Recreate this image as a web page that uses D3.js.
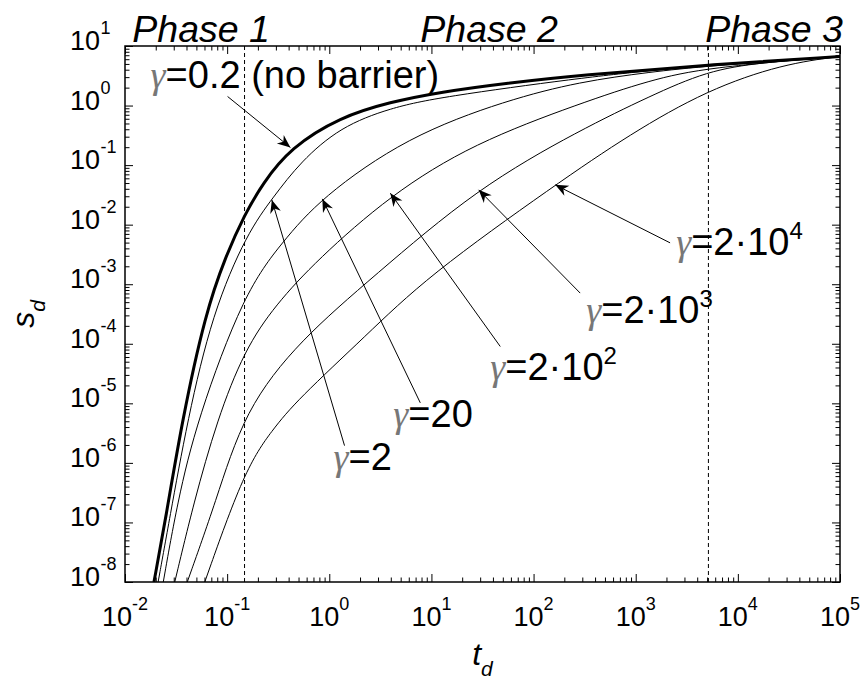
<!DOCTYPE html>
<html>
<head>
<meta charset="utf-8">
<script src="https://cdn.jsdelivr.net/npm/d3@7"></script>
<style>
  body { margin: 0; background: #fff; }
  svg { display: block; }
  text { font-family: "Liberation Sans", Arial, sans-serif; fill: #000; }
</style>
</head>
<body>
<svg id="chart" width="867" height="687"></svg>
<script>
// s_d(t_d) curves, one pair of arrays per gamma
const tG02 = [0.0192, 0.0249, 0.0363, 0.0614, 0.0962, 0.148, 0.221, 0.416, 1.28, 3.96, 12.2, 55, 286, 5000, 1e5];
const sG02 = [1e-8, 1.1e-7, 5.3e-6, 3.3e-4, 2.9e-3, 0.0146, 0.0484, 0.195, 0.644, 1.15, 1.69, 2.39, 3.26, 4.80, 6.67];

const tG2 = [0.0211, 0.0272, 0.0409, 0.0718, 0.157, 0.284, 0.521, 1.28, 3.96, 12.2, 286, 1390, 5000, 1e5];
const sG2 = [1e-8, 1.1e-7, 5.3e-6, 3.3e-4, 7.3e-3, 0.0292, 0.113, 0.438, 0.912, 1.39, 2.9, 3.88, 4.7, 6.67];

const tG20 = [0.0237, 0.0325, 0.0508, 0.148, 0.348, 0.82, 5.77, 55, 286, 1390, 5000, 1e5];
const sG20 = [1e-8, 2.15e-7, 5.3e-6, 7.5e-4, 5.1e-3, 0.0279, 0.30, 1.24, 2.52, 3.66, 4.62, 6.67];

const tG200 = [0.0307, 0.0471, 0.0798, 0.148, 0.297, 0.76, 3.96, 25.9, 286, 1390, 5000, 1e5];
const sG200 = [1e-8, 2.15e-7, 5.3e-6, 7.9e-5, 4.5e-4, 2.56e-3, 0.0316, 0.233, 1.09, 2.69, 4.36, 6.67];

const tG2000 = [0.0407, 0.0769, 0.148, 0.521, 2.72, 27.9, 286, 1390, 5000, 16500, 1e5];
const sG2000 = [1e-8, 2.15e-7, 7.8e-6, 1.17e-4, 1.35e-3, 0.041, 0.39, 1.45, 3.81, 5.28, 6.67];

const tG20000 = [0.0604, 0.148, 0.277, 0.488, 2.25, 9.06, 163, 883, 5000, 27700, 1e5];
const sG20000 = [1e-8, 7.7e-7, 3.6e-6, 1.15e-5, 1.33e-4, 1.35e-3, 0.0466, 0.333, 1.83, 4.99, 6.67];

// phase boundaries (dashed lines) and phase titles
const phaseBounds = [0.148, 5150];
const phaseNames = ['Phase 1', 'Phase 2', 'Phase 3'];
const phaseStartT = [0.0118, 7.78, 4790];

// annotation labels, arrow tips/tails and label anchors (data coords)
const annText = ['=0.2 (no barrier)', '=2', '=20', '=2\u00b710', '=2\u00b710', '=2\u00b710'];
const annSup = ['', '', '', '2', '3', '4'];
const annTip = [[0.416, 0.198], [0.274, 0.026], [0.855, 0.0271], [3.96, 0.0338], [29, 0.0384], [163, 0.0466]];
const annTail = [[0.101, 1.42], [1.41, 1.95e-6], [7.78, 1.02e-5], [47.2, 9.0e-5], [286, 7.1e-4], [2170, 4.95e-3]];
const annPos = [[0.0178, 1.97], [1.10, 7.7e-7], [4.24, 4.05e-6], [37.7, 2.49e-5], [328, 2.25e-4], [2490, 3.11e-3]];

// tick exponents
const xExp = [-2, -1, 0, 1, 2, 3, 4, 5];
const yExp = [-8, -7, -6, -5, -4, -3, -2, -1, 0, 1];

const curves = [
  { t: tG02, s: sG02, w: 3 },
  { t: tG2, s: sG2, w: 1 },
  { t: tG20, s: sG20, w: 1 },
  { t: tG200, s: sG200, w: 1 },
  { t: tG2000, s: sG2000, w: 1 },
  { t: tG20000, s: sG20000, w: 1 }
];

const svg = d3.select('#chart');
const pLeft = 125, pRight = 840, pTop = 46, pBottom = 582;

const x = d3.scaleLog().domain([1e-2, 1e5]).range([pLeft, pRight]);
const y = d3.scaleLog().domain([1e-8, 1e1]).range([pBottom, pTop]);

svg.append('rect').attr('width', 867).attr('height', 687).attr('fill', '#fff');

svg.append('defs').append('clipPath').attr('id', 'plotClip')
  .append('rect')
  .attr('x', pLeft).attr('y', pTop)
  .attr('width', pRight - pLeft).attr('height', pBottom - pTop);

// ticks on all four sides, pointing inward
const xMajor = xExp.map(e => Math.pow(10, e));
const yMajor = yExp.map(e => Math.pow(10, e));
const xMinor = xExp.slice(0, -1).flatMap(e => d3.range(2, 10).map(k => k * Math.pow(10, e)));
const yMinor = yExp.slice(0, -1).flatMap(e => d3.range(2, 10).map(k => k * Math.pow(10, e)));

function ticks(axisFn, scale, vals, size, tr) {
  svg.append('g')
    .attr('transform', tr)
    .call(axisFn(scale).tickValues(vals).tickSize(size).tickFormat(''))
    .call(g => g.select('.domain').remove())
    .selectAll('line').attr('stroke', '#000');
}
ticks(d3.axisBottom, x, xMajor, -8, `translate(0,${pBottom})`);
ticks(d3.axisBottom, x, xMinor, -4.5, `translate(0,${pBottom})`);
ticks(d3.axisTop, x, xMajor, -8, `translate(0,${pTop})`);
ticks(d3.axisTop, x, xMinor, -4.5, `translate(0,${pTop})`);
ticks(d3.axisLeft, y, yMajor, -8, `translate(${pLeft},0)`);
ticks(d3.axisLeft, y, yMinor, -4.5, `translate(${pLeft},0)`);
ticks(d3.axisRight, y, yMajor, -8, `translate(${pRight},0)`);
ticks(d3.axisRight, y, yMinor, -4.5, `translate(${pRight},0)`);

// phase boundary lines
svg.selectAll('.phase-line')
  .data(phaseBounds)
  .join('line')
  .attr('class', 'phase-line')
  .attr('x1', d => x(d)).attr('x2', d => x(d))
  .attr('y1', pTop).attr('y2', pBottom)
  .attr('stroke', '#000')
  .attr('stroke-width', 1)
  .attr('stroke-dasharray', '4,3');

// curves (smoothed through the read points)
const line = d3.line()
  .x(d => x(d[0]))
  .y(d => y(d[1]))
  .curve(d3.curveBasis);

svg.append('g')
  .attr('clip-path', 'url(#plotClip)')
  .selectAll('path')
  .data(curves)
  .join('path')
  .attr('d', c => line(c.t.map((t, i) => [t, c.s[i]])))
  .attr('fill', 'none')
  .attr('stroke', '#000')
  .attr('stroke-width', c => c.w)
  .attr('stroke-linejoin', 'round');

// axis box
svg.append('rect')
  .attr('x', pLeft).attr('y', pTop)
  .attr('width', pRight - pLeft).attr('height', pBottom - pTop)
  .attr('fill', 'none')
  .attr('stroke', '#000')
  .attr('stroke-width', 1.5);

// x tick labels
const xLab = svg.selectAll('.xlab')
  .data(xExp)
  .join('text')
  .attr('class', 'xlab')
  .attr('x', e => x(Math.pow(10, e)))
  .attr('y', 626)
  .attr('text-anchor', 'middle')
  .style('font-size', '27px');
xLab.append('tspan').text('10');
xLab.append('tspan').attr('dy', -16).style('font-size', '18px').text(e => String(e));

// y tick labels
svg.selectAll('.ylab')
  .data(yExp)
  .join('text')
  .attr('class', 'ylab')
  .attr('x', 100)
  .attr('y', e => y(Math.pow(10, e)) + 4)
  .attr('text-anchor', 'end')
  .style('font-size', '27px')
  .text('10');
svg.selectAll('.ysup')
  .data(yExp)
  .join('text')
  .attr('class', 'ysup')
  .attr('x', 100.5)
  .attr('y', e => y(Math.pow(10, e)) - 12)
  .style('font-size', '18px')
  .text(e => String(e));

// axis labels
const tl = svg.append('text')
  .attr('x', (pLeft + pRight) / 2)
  .attr('y', 665)
  .attr('text-anchor', 'middle')
  .style('font-size', '32px')
  .style('font-style', 'italic');
tl.append('tspan').text('t');
tl.append('tspan').attr('dy', 11).style('font-size', '21px').text('d');

const sl = svg.append('text')
  .attr('transform', `translate(34,${(pTop + pBottom) / 2}) rotate(-90)`)
  .attr('text-anchor', 'middle')
  .style('font-size', '32px')
  .style('font-style', 'italic');
sl.append('tspan').text('s');
sl.append('tspan').attr('dy', 11).style('font-size', '21px').text('d');

// phase titles
svg.selectAll('.phase-title')
  .data(phaseNames)
  .join('text')
  .attr('class', 'phase-title')
  .attr('x', (d, i) => x(phaseStartT[i]))
  .attr('y', 42)
  .style('font-size', '37.5px')
  .style('font-style', 'italic')
  .text(d => d);

// annotation arrows
const ann = d3.range(annText.length);
svg.selectAll('.ann-line')
  .data(ann)
  .join('line')
  .attr('class', 'ann-line')
  .attr('x1', i => x(annTail[i][0])).attr('y1', i => y(annTail[i][1]))
  .attr('x2', i => x(annTip[i][0])).attr('y2', i => y(annTip[i][1]))
  .attr('stroke', '#000')
  .attr('stroke-width', 1);

svg.selectAll('.ann-head')
  .data(ann)
  .join('path')
  .attr('class', 'ann-head')
  .attr('d', 'M0,0 L-13,-5.5 L-9,0 L-13,5.5 Z')
  .attr('fill', '#000')
  .attr('transform', i => {
    const tx = x(annTip[i][0]), ty = y(annTip[i][1]);
    const sx = x(annTail[i][0]), sy = y(annTail[i][1]);
    const a = Math.atan2(ty - sy, tx - sx) * 180 / Math.PI;
    return `translate(${tx},${ty}) rotate(${a})`;
  });

// annotation labels
const annLab = svg.selectAll('.ann-text')
  .data(ann)
  .join('text')
  .attr('class', 'ann-text')
  .attr('x', i => x(annPos[i][0]))
  .attr('y', i => y(annPos[i][1]))
  .style('font-size', '38px');
annLab.append('tspan')
  .style('font-family', '"Liberation Serif", serif')
  .style('font-style', 'italic')
  .style('fill', '#777')
  .text('\u03b3');
annLab.append('tspan').text(i => annText[i]);
annLab.filter(i => annSup[i] !== '')
  .append('tspan')
  .attr('dy', -16)
  .style('font-size', '24px')
  .text(i => annSup[i]);
</script>
</body>
</html>
